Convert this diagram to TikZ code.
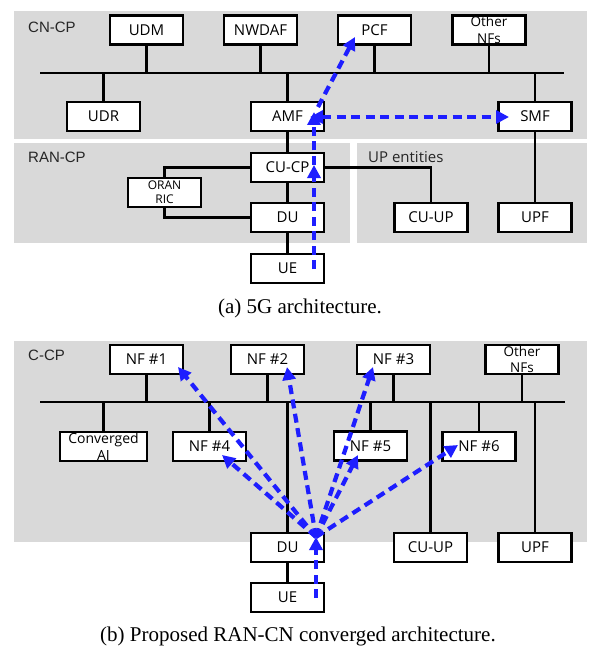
\documentclass[tikz,border=0pt]{standalone}
\usepackage{fontspec}
\setmainfont{Liberation Serif}
\newfontfamily\boxfont{Open Sans}
\newfontfamily\lblfont{Liberation Sans}
\usetikzlibrary{arrows.meta}
\definecolor{panelgray}{RGB}{217,217,217}
\definecolor{arrblue}{RGB}{30,30,255}
\begin{document}
\begin{tikzpicture}[x=1pt,y=-1pt,
  box/.style={draw=black, fill=white, line width=2.4pt, minimum width=73pt, minimum height=29pt, inner sep=0pt, font=\boxfont\fontsize{15}{18}\selectfont},
  smallbox/.style={box, align=center, font=\boxfont\fontsize{13.5}{16.5}\selectfont},
  wire/.style={line width=2.3pt},
  flow/.style={draw=arrblue, line width=4.2pt, dash pattern=on 9pt off 5.5pt, -{Triangle[length=13pt,width=13pt]}},
  flowboth/.style={flow, {Triangle[length=13pt,width=13pt]}-{Triangle[length=13pt,width=13pt]}},
  panel/.style={fill=panelgray, draw=none},
  paneltitle/.style={anchor=west, inner sep=0pt, font=\lblfont\fontsize{15}{18}\selectfont, text=black!85},
  captext/.style={font=\fontsize{21}{25}\selectfont}]

\useasboundingbox (0,0) rectangle (599,663);

% ---------- panel (a) ----------
\fill[panel] (14,11) rectangle (587,139);
\fill[panel] (14,143) rectangle (350,243);
\fill[panel] (357,143) rectangle (587,243);

\node[paneltitle] (tcn) at (28,27) {CN-CP};
\node[paneltitle] (tran) at (28,157) {RAN-CP};
\node[paneltitle, font=\boxfont\fontsize{15}{18}\selectfont] (tup) at (368,157) {UP entities};

\coordinate (busaL) at (40,73);
\coordinate (busaR) at (564,73);
\draw[wire] (busaL) -- (busaR);

\node[box] (udm) at (146.5,30) {UDM};
\node[box] (nwdaf) at (260.5,30) {NWDAF};
\node[box] (pcf) at (374.5,30) {PCF};
\node[smallbox] (othera) at (489,30) {Other\\NFs};
\node[box] (udr) at (103.5,116.5) {UDR};
\node[box] (amf) at (287.5,116.5) {AMF};
\node[box] (smf) at (535,116.5) {SMF};
\node[box] (cucp) at (287.5,167.5) {CU-CP};
\node[box, align=center, font=\boxfont\fontsize{12}{14}\selectfont] (ric) at (164.5,192.5) {ORAN\\RIC};
\node[box] (dua) at (287.5,217.5) {DU};
\node[box] (uea) at (287.5,268.5) {UE};
\node[box] (cuupa) at (431,217.5) {CU-UP};
\node[box] (upfa) at (535,217.5) {UPF};

\foreach \n in {udm,nwdaf,pcf,othera}{\draw[wire] (\n.south) -- (\n.south |- busaL);}
\foreach \n in {udr,amf,smf}{\draw[wire] (\n.north) -- (\n.north |- busaL);}
\draw[wire] (amf.south) -- (cucp.north);
\draw[wire] (cucp.south) -- (dua.north);
\draw[wire] (dua.south) -- (uea.north);
\draw[wire] (cucp.west) -| (ric.north);
\draw[wire] (ric.south) |- (dua.west);
\draw[wire] (cucp.east) -| (cuupa.north);
\draw[wire] (smf.south) -- (upfa.north);

\coordinate (aUE) at (314,269);
\coordinate (aCU) at (314,165);
\coordinate (aAMF) at (314,112);
\coordinate (aAMFr) at (318,107);
\coordinate (aPCF) at (355,37);
\coordinate (aAMFl) at (310,117);
\coordinate (aSMF) at (509,117);
\draw[flow] (aUE) -- (aCU);
\draw[flow] (aCU) -- (aAMF);
\draw[flow] (aAMFr) -- (aPCF);
\draw[flowboth] (aAMFl) -- (aSMF);

\node[captext] (capa) at (300,308) {(a) 5G architecture.};

% ---------- panel (b) ----------
\fill[panel] (14,341) rectangle (587,542);
\node[paneltitle] (tccp) at (28,355) {C-CP};

\coordinate (busbL) at (40,402);
\coordinate (busbR) at (565,402);
\draw[wire] (busbL) -- (busbR);

\node[box] (nf1) at (146.5,359.5) {NF \#1};
\node[box] (nf2) at (267.5,359.5) {NF \#2};
\node[box] (nf3) at (393.5,359.5) {NF \#3};
\node[smallbox] (otherb) at (522,359.5) {Other\\NFs};
\node[box, minimum width=87pt, align=center, font=\boxfont\fontsize{14}{17}\selectfont] (cai) at (103.5,446.5) {Converged\\AI};
\node[box] (nf4) at (209.5,446.5) {NF \#4};
\node[box] (nf5) at (370.5,446) {NF \#5};
\node[box] (nf6) at (479,446.5) {NF \#6};
\node[box] (dub) at (287.5,547.5) {DU};
\node[box] (ueb) at (287.5,597.5) {UE};
\node[box] (cuupb) at (430.5,547.5) {CU-UP};
\node[box] (upfb) at (535,547.5) {UPF};

\foreach \n in {nf1,nf2,nf3,otherb}{\draw[wire] (\n.south) -- (\n.south |- busbL);}
\foreach \n in {cai,nf4,nf5,nf6,dub,cuupb,upfb}{\draw[wire] (\n.north) -- (\n.north |- busbL);}
\draw[wire] (dub.south) -- (ueb.north);

\coordinate (bDU) at (316,537);
\coordinate (bUE) at (316,598);
\coordinate (bNF1) at (178,367);
\coordinate (bNF2) at (287,367);
\coordinate (bNF3) at (373,367);
\coordinate (bNF4) at (222,455);
\coordinate (bNF5) at (358,455);
\coordinate (bNF6) at (458,445);
\draw[flow] (bUE) -- (bDU);
\foreach \t in {bNF1,bNF2,bNF3,bNF4,bNF5,bNF6}{\draw[flow] (bDU) -- (\t);}

\node[captext] (capb) at (298,636) {(b) Proposed RAN-CN converged architecture.};
\end{tikzpicture}
\end{document}
